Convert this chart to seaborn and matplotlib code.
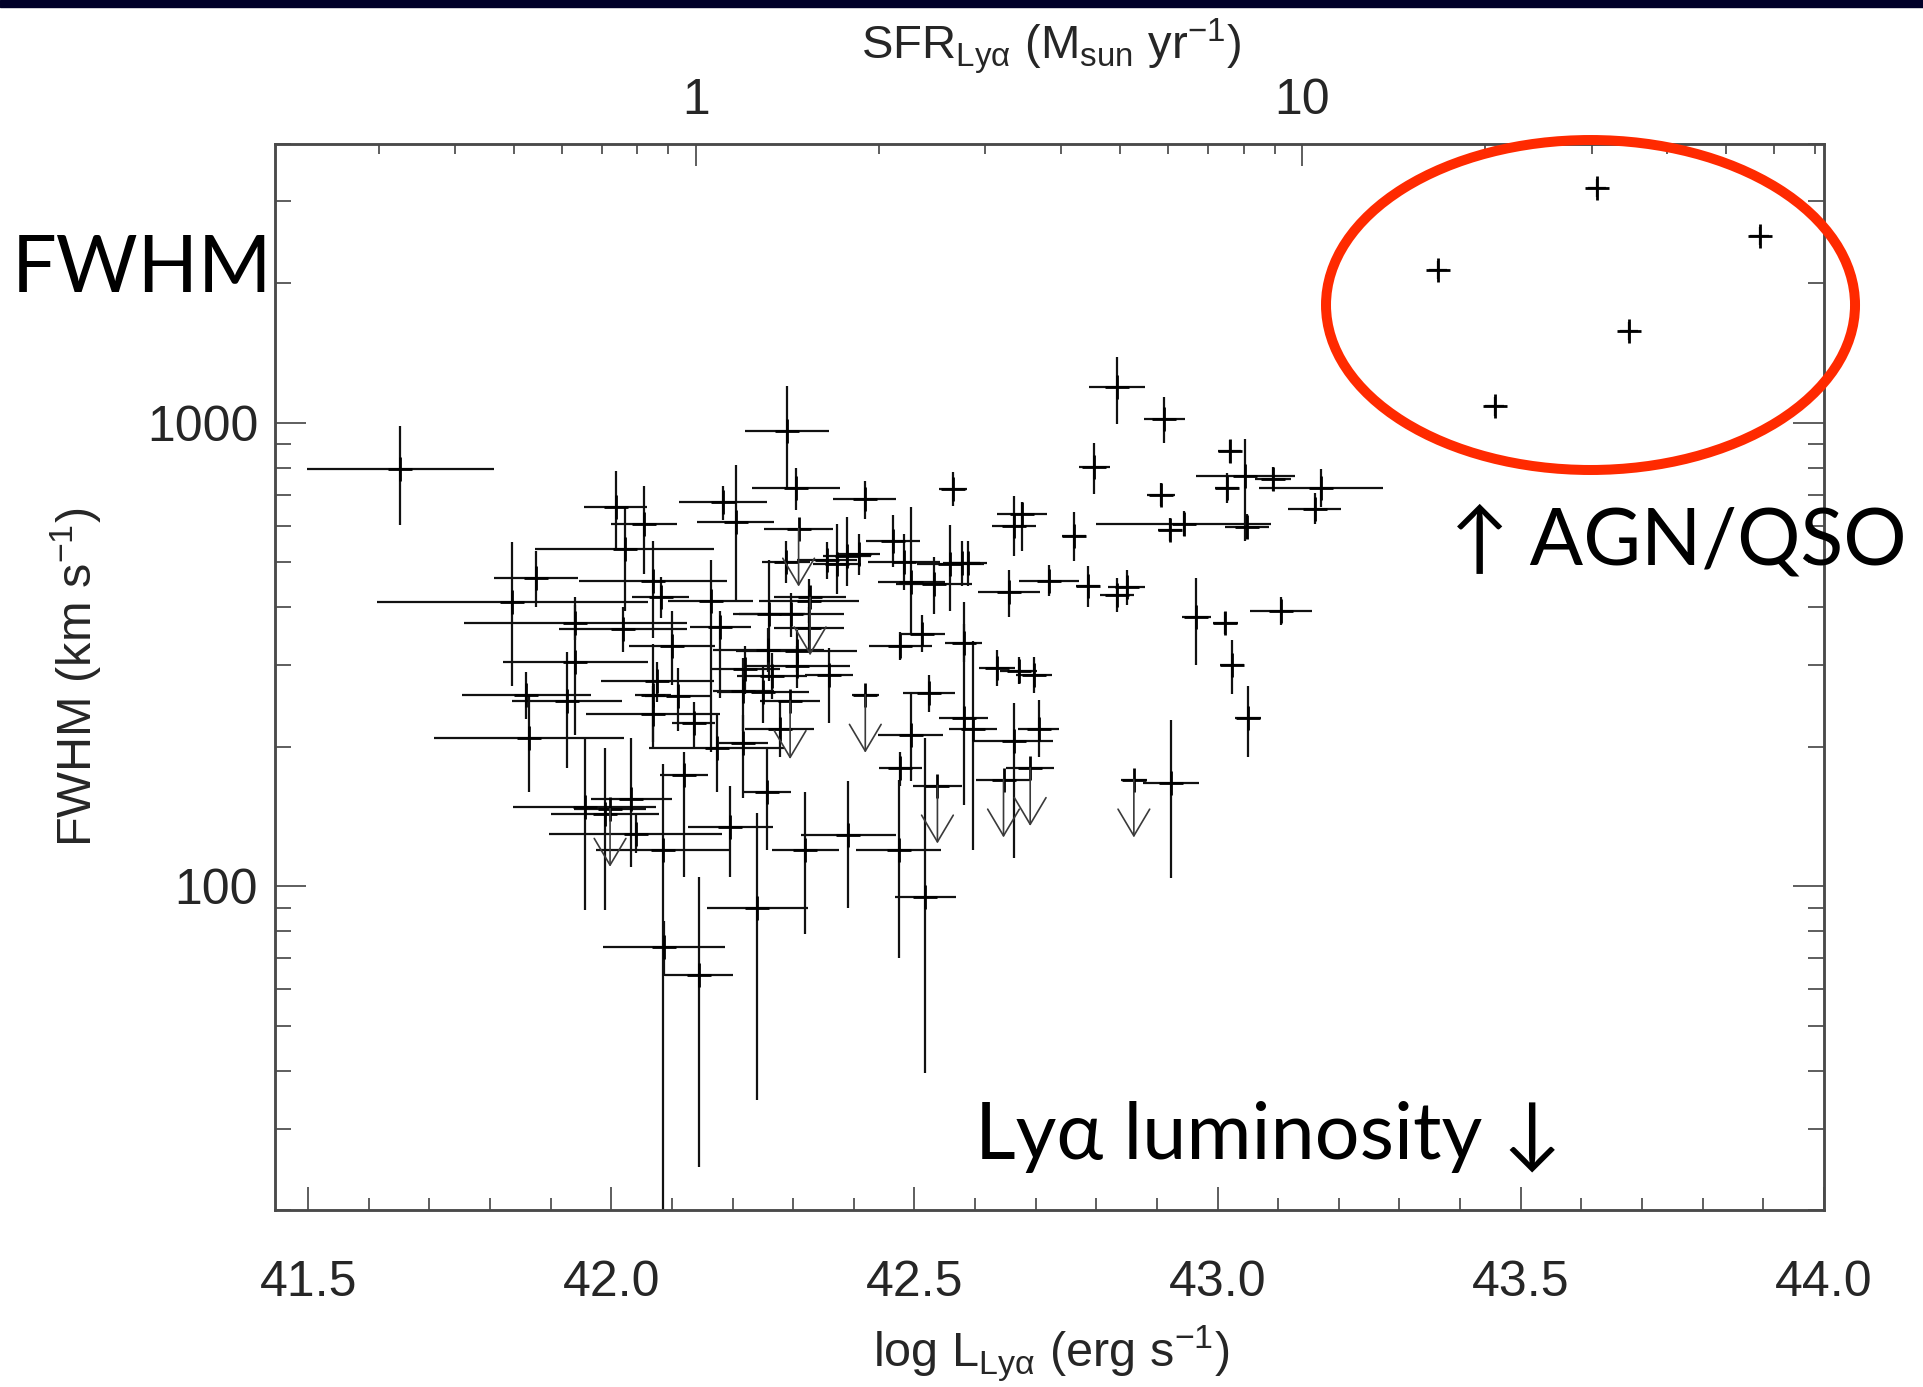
import numpy as np
import pandas as pd
import matplotlib
matplotlib.use("Agg")
import matplotlib.pyplot as plt
import seaborn as sns
from matplotlib.patches import Ellipse, Rectangle

# ---------------- data ----------------
# log Lya luminosity (erg/s), its half error, FWHM (km/s), FWHM lower/upper bounds, upper-limit flag
lum = [43.626, 43.894, 43.364, 43.679, 43.457,
       42.834, 42.912, 42.797, 42.564, 43.020, 43.046, 43.016, 43.091, 43.171, 43.160,
       42.907, 42.664, 42.677, 42.763, 42.944, 42.922, 43.049, 42.722, 42.786, 42.850,
       42.834, 42.656, 42.965, 43.013, 43.105, 43.024, 43.050, 42.862, 42.923,
       42.290, 42.305, 42.418, 42.184, 42.205, 42.309, 42.328, 42.356, 42.389, 42.372,
       42.408, 42.465, 42.495, 42.483, 42.532, 42.559, 42.578, 42.589, 42.419, 42.295,
       42.218, 42.218, 42.359, 42.524, 42.494, 42.477, 42.581, 42.597, 42.636, 42.672,
       42.697, 42.705, 42.664, 42.691, 42.647, 42.538, 42.391, 42.320, 42.474, 42.196,
       42.257, 42.260, 42.265, 42.477, 42.512, 42.581,
       41.652, 42.007, 42.054, 42.022, 42.069, 42.069, 42.110, 42.069, 41.837, 41.876,
       41.927, 41.941, 41.941, 42.019, 41.860, 41.864, 41.956, 41.998, 42.033, 42.120,
       42.086, 42.100, 42.164, 42.180, 42.174, 41.989, 42.040, 42.087, 42.144, 42.241,
       42.518,
       42.082, 42.076, 42.136, 42.259, 42.221, 42.250, 42.278,
       42.288, 42.326, 42.297, 42.326, 42.306, 42.306]
lum_err = [0.015, 0.015, 0.015, 0.015, 0.015,
           0.046, 0.034, 0.025, 0.023, 0.019, 0.081, 0.020, 0.030, 0.102, 0.043,
           0.023, 0.036, 0.041, 0.020, 0.144, 0.020, 0.036, 0.050, 0.020, 0.030,
           0.028, 0.051, 0.024, 0.020, 0.051, 0.020, 0.021, 0.021, 0.046,
           0.069, 0.073, 0.052, 0.073, 0.064, 0.057, 0.060, 0.050, 0.040, 0.040,
           0.035, 0.045, 0.055, 0.060, 0.063, 0.055, 0.030, 0.030, 0.022, 0.050,
           0.050, 0.040, 0.040, 0.043, 0.054, 0.036, 0.040, 0.040, 0.030, 0.030,
           0.030, 0.034, 0.065, 0.040, 0.045, 0.040, 0.078, 0.055, 0.070, 0.070,
           0.040, 0.060, 0.058, 0.052, 0.038, 0.030,
           0.154, 0.052, 0.054, 0.147, 0.122, 0.030, 0.054, 0.110, 0.224, 0.069,
           0.091, 0.120, 0.184, 0.106, 0.106, 0.157, 0.118, 0.060, 0.067, 0.040,
           0.111, 0.071, 0.070, 0.050, 0.111, 0.089, 0.143, 0.100, 0.056, 0.083,
           0.050,
           0.047, 0.093, 0.035, 0.092, 0.057, 0.076, 0.057,
           0.040, 0.082, 0.087, 0.058, 0.100, 0.088]
fwhm = [3202, 2528, 2137, 1578, 1085,
        1195, 1018, 804, 721, 867, 767, 724, 755, 724, 653,
        700, 598, 634, 571, 606, 588, 596, 456, 445, 442,
        425, 431, 381, 370, 393, 300, 231, 170, 167,
        958, 722, 684, 673, 611, 591, 420, 505, 517, 496,
        522, 557, 453, 500, 449, 496, 498, 498, 259, 251,
        264, 204, 286, 261, 212, 180, 231, 219, 296, 292,
        286, 219, 206, 180, 170, 165, 129, 120, 120, 134,
        160, 386, 284, 330, 351, 335,
        793, 658, 606, 533, 456, 259, 257, 235, 411, 463,
        251, 304, 370, 359, 259, 209, 148, 147, 154, 174,
        120, 330, 413, 362, 199, 143, 130, 74, 64.5, 89.6,
        94.7,
        420, 277, 225, 324, 294, 262, 219,
        500, 413, 386, 361, 322, 298]
fwhm_low = [3060, 2415, 2040, 1508, 1036,
            993, 906, 702, 662, 818, 557, 670, 711, 658, 604,
            661, 516, 530, 503, 570, 555, 560, 422, 401, 405,
            390, 381, 300, 350, 367, 260, 190, 170, 104,
            722, 648, 619, 616, 410, 591, 420, 460, 445, 428,
            470, 488, 350, 435, 386, 393, 445, 445, 259, 251,
            216, 155, 225, 238, 169, 165, 150, 120, 270, 273,
            261, 190, 115, 180, 170, 165, 90, 79, 70, 105,
            120, 277, 253, 308, 320, 305,
            603, 535, 472, 393, 344, 199, 216, 205, 270, 400,
            180, 212, 340, 320, 230, 160, 89, 147, 110, 105,
            15, 272, 195, 255, 160, 89, 118, 64, 24.8, 34.6,
            39.5,
            380, 250, 200, 290, 260, 225, 190,
            450, 370, 345, 325, 290, 268]
fwhm_high = [3350, 2645, 2237, 1652, 1136,
             1386, 1135, 903, 782, 919, 921, 780, 801, 795, 707,
             741, 696, 673, 642, 644, 623, 634, 493, 492, 482,
             462, 481, 462, 391, 420, 340, 270, 170, 229,
             1199, 800, 748, 730, 811, 591, 420, 553, 627, 605,
             575, 632, 658, 575, 512, 603, 555, 555, 259, 251,
             311, 234, 327, 286, 261, 195, 410, 338, 324, 313,
             313, 252, 249, 180, 170, 165, 169, 160, 170, 165,
             200, 505, 318, 354, 385, 368,
             985, 785, 730, 658, 555, 333, 296, 270, 553, 530,
             320, 420, 405, 400, 290, 259, 209, 147, 209, 195,
             184, 393, 505, 393, 234, 199, 143, 84, 105, 144,
             209,
             465, 305, 250, 360, 330, 300, 250,
             555, 460, 430, 400, 357, 330]
upper_limit = [0] * 5 + \
    [0, 0, 0, 0, 0, 0, 0, 0, 0, 0, 0, 0, 0, 0, 0, 0, 0, 0, 0, 0, 0, 0, 0, 0, 0, 0, 0, 1, 0] + \
    [0, 0, 0, 0, 0, 1, 1, 0, 0, 0, 0, 0, 0, 0, 0, 0, 0, 0, 1, 1,
     0, 0, 0, 0, 0, 0, 0, 0, 0, 0, 0, 0, 0, 1, 1, 1, 0, 0, 0, 0,
     0, 0, 0, 0, 0, 0] + \
    [0, 0, 0, 0, 0, 0, 0, 0, 0, 0, 0, 0, 0, 0, 0, 0, 0, 1, 0, 0,
     0, 0, 0, 0, 0, 0, 0, 0, 0, 0, 0] + \
    [0, 0, 0, 0, 0, 0, 0] + \
    [0, 0, 0, 0, 0, 0]

x_ticks = [41.5, 42.0, 42.5, 43.0, 43.5, 44.0]
x_ticklabels = ["41.5", "42.0", "42.5", "43.0", "43.5", "44.0"]
y_ticks = [100, 1000]
y_ticklabels = ["100", "1000"]
sfr_ticks = [1, 10]
sfr_ticklabels = ["1", "10"]
SFR_ZERO = 42.14   # log L where SFR = 1 Msun/yr

# ---------------- figure ----------------
sns.set_theme(style="white")
plt.rcParams["font.family"] = ["Liberation Sans", "DejaVu Sans"]
plt.rcParams["mathtext.fontset"] = "custom"
plt.rcParams["mathtext.rm"] = "Liberation Sans"
plt.rcParams["mathtext.it"] = "Liberation Sans"
plt.rcParams["mathtext.bf"] = "Liberation Sans:bold"

df = pd.DataFrame({"lum": lum, "lum_err": lum_err, "fwhm": fwhm,
                   "lo": fwhm_low, "hi": fwhm_high, "ul": upper_limit})

fig = plt.figure(figsize=(19.23, 13.87), dpi=100)
fig.patch.set_facecolor("white")
ax = fig.add_axes([0.1429, 0.1273, 0.8055, 0.7692])
ax.set_facecolor("white")
ax.set_yscale("log")
ax.set_xlim(41.445, 44.0)
ax.set_ylim(20, 4000)

line_col = "#111111"
ax.errorbar(df["lum"], df["fwhm"], xerr=df["lum_err"],
            yerr=[df["fwhm"] - df["lo"], df["hi"] - df["fwhm"]],
            fmt="none", ecolor=line_col, elinewidth=1.6, capsize=0, zorder=2)
sns.scatterplot(data=df, x="lum", y="fwhm", marker="+", s=300, color="black",
                linewidth=2.0, ax=ax, legend=False, zorder=3)

# upper-limit arrows
for _, r in df[df["ul"] == 1].iterrows():
    ax.annotate("", xy=(r["lum"], r["fwhm"] * 10 ** -0.125), xytext=(r["lum"], r["fwhm"]),
                arrowprops=dict(arrowstyle="->,head_length=1.6,head_width=0.95",
                                color="#3a3a3a", lw=1.2, shrinkA=0, shrinkB=0),
                zorder=3)

# axes styling
spine_col = "#4a4a4a"
for s in ax.spines.values():
    s.set_color(spine_col)
    s.set_linewidth(1.8)

ax.set_xticks(x_ticks, labels=x_ticklabels)
ax.set_xticks(np.arange(41.5, 44.0001, 0.1), minor=True)
ax.set_yticks(y_ticks, labels=y_ticklabels)
minor_y = [v * d for d in (10, 100, 1000) for v in range(2, 10) if 20 <= v * d <= 4000]
ax.set_yticks(minor_y, minor=True)
ax.yaxis.set_minor_formatter(matplotlib.ticker.NullFormatter())
ax.tick_params(axis="x", which="both", direction="in", top=False, bottom=True,
               labelsize=36, pad=36, color="#333333", width=1.1)
ax.tick_params(axis="x", which="major", length=16.5)
ax.tick_params(axis="x", which="minor", length=8.6)
ax.tick_params(axis="y", which="both", direction="in", left=True, right=True,
               labelsize=36, pad=12, color="#333333", width=1.1)
ax.tick_params(axis="y", which="major", length=22)
ax.tick_params(axis="y", which="minor", length=11.5)

ax.set_xlabel(r"log L$_{\mathrm{Ly}\alpha}$ (erg s$^{\mathrm{-1}}$)", fontsize=35)
ax.xaxis.set_label_coords(0.501, -0.106)
ax.set_ylabel(r"FWHM (km s$^{\mathrm{-1}}$)", fontsize=35)
ax.yaxis.set_label_coords(-0.110, 0.5)

# top SFR axis
ax2 = ax.twiny()
ax2.set_xscale("log")
ax2.set_xlim(10 ** (41.445 - SFR_ZERO), 10 ** (44.0 - SFR_ZERO))
ax2.set_xticks(sfr_ticks, labels=sfr_ticklabels)
sfr_minor = [v * d for d in (0.1, 1, 10) for v in range(2, 10)
             if 10 ** (41.445 - SFR_ZERO) < v * d < 10 ** (44.0 - SFR_ZERO)]
ax2.set_xticks(sfr_minor, minor=True)
ax2.xaxis.set_minor_formatter(matplotlib.ticker.NullFormatter())
ax2.tick_params(axis="x", which="both", direction="in", labelsize=36, pad=14,
                color="#333333", width=1.1)
ax2.tick_params(axis="x", which="major", length=16)
ax2.tick_params(axis="x", which="minor", length=7.5)
ax2.set_xlabel(r"SFR$_{\mathrm{Ly}\alpha}$ (M$_{\mathrm{sun}}$ yr$^{\mathrm{-1}}$)", fontsize=34)
ax2.xaxis.set_label_coords(0.501, 1.079)
for s in ax2.spines.values():
    s.set_color(spine_col)
    s.set_linewidth(1.8)
ax2.grid(False)
ax.grid(False)

# slide annotations
ann_font = ["Lato", "DejaVu Sans"]
fig.text(12 / 1923, 1 - 292 / 1387, "FWHM", fontsize=57, family=ann_font,
         ha="left", va="baseline", color="black")
fig.text(1450 / 1923, 1 - 564 / 1387, "\u2191 AGN/QSO", fontsize=57, family=ann_font,
         ha="left", va="baseline", color="black")
fig.text(975 / 1923, 1 - 1159 / 1387, "Ly\u03b1 luminosity \u2193", fontsize=57,
         family=ann_font, ha="left", va="baseline", color="black")

# red ellipse around the AGN/QSO points
fig.add_artist(Ellipse((0.8271, 0.7801), 0.2751, 0.2379, transform=fig.transFigure,
                       fill=False, edgecolor="#ff2a00", linewidth=7.2, zorder=10))
# dark slide band at the very top
fig.add_artist(Rectangle((0, 1 - 7 / 1387), 1, 7 / 1387, transform=fig.transFigure,
                         color="#000028", zorder=10))

fig.savefig("out.png", dpi=100, facecolor="white")
